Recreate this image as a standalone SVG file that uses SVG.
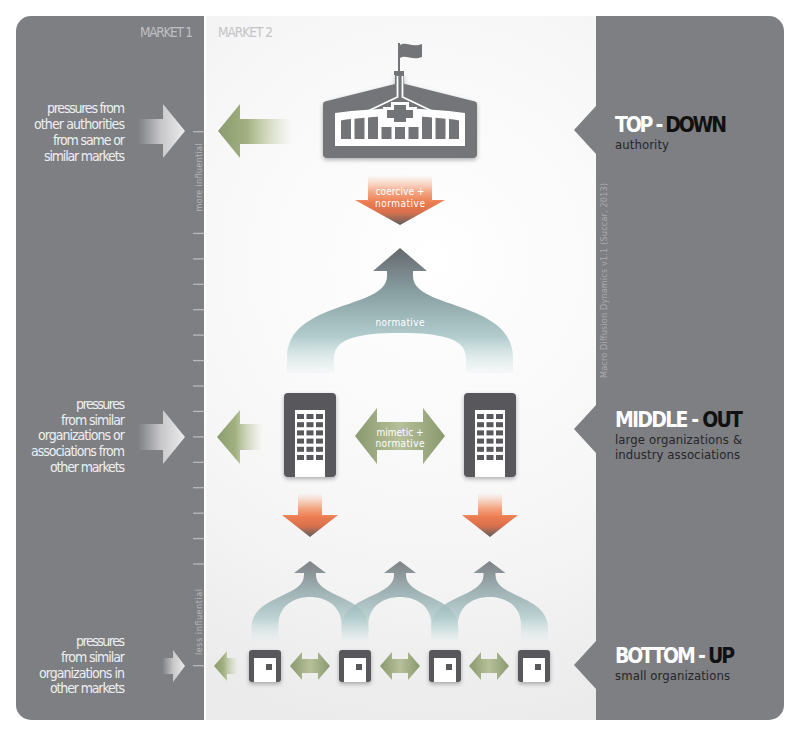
<svg xmlns="http://www.w3.org/2000/svg" width="800" height="736" viewBox="0 0 800 736">
<defs>
<style>
.f{font-family:"Liberation Sans Narrow","DejaVu Sans Condensed","Roboto Condensed","Liberation Sans",sans-serif;font-stretch:condensed;}
.lab{font-size:14px;fill:#eeeff0;text-anchor:end;}
.mk{font-size:13.5px;}
.head{font-size:21px;font-weight:bold;}
.sub{font-size:13px;fill:#262628;}
.inar{font-size:10px;fill:#ffffff;text-anchor:middle;}
.vt{font-size:9px;text-anchor:middle;}
.tick{stroke:#b9babd;stroke-width:1.3;}
.bld{fill:#58585b;}
.win{fill:#58585b;}
</style>
<radialGradient id="bg" cx="430" cy="260" r="470" gradientUnits="userSpaceOnUse">
<stop offset="0" stop-color="#ffffff"/>
<stop offset="0.6" stop-color="#f6f6f6"/>
<stop offset="1" stop-color="#ebebeb"/>
</radialGradient>
<linearGradient id="gray" x1="0" y1="0" x2="1" y2="0">
<stop offset="0" stop-color="#c8c8cb" stop-opacity="0"/>
<stop offset="0.5" stop-color="#cdcdd0" stop-opacity="0.95"/>
<stop offset="1" stop-color="#ececee"/>
</linearGradient>
<linearGradient id="green" x1="0" y1="0" x2="1" y2="0">
<stop offset="0" stop-color="#8b9b6f"/>
<stop offset="0.4" stop-color="#a3b181"/>
<stop offset="1" stop-color="#c8d2ab" stop-opacity="0"/>
</linearGradient>
<linearGradient id="dbl" x1="0" y1="0" x2="1" y2="0">
<stop offset="0" stop-color="#8a996e"/>
<stop offset="0.5" stop-color="#b6c09a"/>
<stop offset="1" stop-color="#8a996e"/>
</linearGradient>
<linearGradient id="orange" x1="0" y1="0" x2="0" y2="1">
<stop offset="0" stop-color="#f6b393" stop-opacity="0"/>
<stop offset="0.35" stop-color="#f29a72" stop-opacity="0.9"/>
<stop offset="0.55" stop-color="#ec7c51"/>
<stop offset="0.75" stop-color="#d8704c"/>
<stop offset="1" stop-color="#5f5f61"/>
</linearGradient>
<linearGradient id="forkBig" x1="0" y1="248" x2="0" y2="376" gradientUnits="userSpaceOnUse">
<stop offset="0" stop-color="#65686d"/>
<stop offset="0.35" stop-color="#89a0a3"/>
<stop offset="0.7" stop-color="#b3cdce"/>
<stop offset="1" stop-color="#dcebeb" stop-opacity="0.1"/>
</linearGradient>
<linearGradient id="forkSm" x1="0" y1="561" x2="0" y2="642" gradientUnits="userSpaceOnUse">
<stop offset="0" stop-color="#65686d"/>
<stop offset="0.35" stop-color="#8aa1a4"/>
<stop offset="0.7" stop-color="#b0cbcc"/>
<stop offset="1" stop-color="#dcebeb" stop-opacity="0.1"/>
</linearGradient>
<filter id="sh" x="-20%" y="-20%" width="140%" height="150%">
<feDropShadow dx="0" dy="2" stdDeviation="2" flood-color="#000" flood-opacity="0.3"/>
</filter>
</defs>

<!-- panels -->
<g id="background">
<rect x="204" y="16" width="392" height="704" fill="url(#bg)"/>
<path d="M204,16 H31 A15,15 0 0 0 16,31 V705 A15,15 0 0 0 31,720 H204 Z" fill="#7e7f83"/>
<rect x="204" y="16" width="2" height="704" fill="#ffffff"/>
<path d="M596,16 H769 A15,15 0 0 1 784,31 V705 A15,15 0 0 1 769,720 H596 V689 L574,665 L596,641 V453 L574,429 L596,405 V154 L574,130 L596,106 Z" fill="#7e7f83"/>
</g>

<g id="scale">
<line class="tick" x1="193" y1="131.7" x2="204" y2="131.7"/>
<line class="tick" x1="193" y1="233.4" x2="204" y2="233.4"/>
<line class="tick" x1="193" y1="258.9" x2="204" y2="258.9"/>
<line class="tick" x1="193" y1="284.3" x2="204" y2="284.3"/>
<line class="tick" x1="193" y1="309.7" x2="204" y2="309.7"/>
<line class="tick" x1="193" y1="335.1" x2="204" y2="335.1"/>
<line class="tick" x1="193" y1="360.6" x2="204" y2="360.6"/>
<line class="tick" x1="193" y1="386" x2="204" y2="386"/>
<line class="tick" x1="193" y1="411.4" x2="204" y2="411.4"/>
<line class="tick" x1="193" y1="436.9" x2="204" y2="436.9"/>
<line class="tick" x1="193" y1="462.3" x2="204" y2="462.3"/>
<line class="tick" x1="193" y1="487.7" x2="204" y2="487.7"/>
<line class="tick" x1="193" y1="513.2" x2="204" y2="513.2"/>
<line class="tick" x1="193" y1="538.6" x2="204" y2="538.6"/>
<line class="tick" x1="193" y1="564" x2="204" y2="564"/>
<line class="tick" x1="193" y1="665.7" x2="204" y2="665.7"/>
<text class="f vt" fill="#b6b7ba" transform="translate(202,177.5) rotate(-90)" textLength="68">more influential</text>
<text class="f vt" fill="#b6b7ba" transform="translate(202,622) rotate(-90)" textLength="66">less influential</text>
</g>

<g id="texts">
<text class="f mk" x="193" y="37" fill="#bebfc2" text-anchor="end" textLength="53">MARKET 1</text>
<text class="f mk" x="218" y="37" fill="#c3c4c7" textLength="55">MARKET 2</text>
<text class="f vt" fill="#a9aaae" transform="translate(607,280.5) rotate(-90)" textLength="195">Macro Diffusion Dynamics v1.1 (Succar, 2013)</text>
</g>

<g id="label-top">
<text class="f lab" x="125" y="113" textLength="78">pressures from</text>
<text class="f lab" x="125" y="129" textLength="91">other authorities</text>
<text class="f lab" x="125" y="145" textLength="72">from same or</text>
<text class="f lab" x="125" y="161" textLength="81">similar markets</text>
</g>
<g id="label-middle">
<text class="f lab" x="125" y="409" textLength="49">pressures</text>
<text class="f lab" x="125" y="424.5" textLength="64">from similar</text>
<text class="f lab" x="125" y="440" textLength="87">organizations or</text>
<text class="f lab" x="125" y="456" textLength="94">associations from</text>
<text class="f lab" x="125" y="471.5" textLength="75">other markets</text>
</g>
<g id="label-bottom">
<text class="f lab" x="125" y="646" textLength="49">pressures</text>
<text class="f lab" x="125" y="662" textLength="64">from similar</text>
<text class="f lab" x="125" y="677.5" textLength="86">organizations in</text>
<text class="f lab" x="125" y="693" textLength="75">other markets</text>
</g>

<g id="level-top">
<text class="f head" x="615" y="132" textLength="112"><tspan fill="#ffffff">TOP - </tspan><tspan fill="#111111">DOWN</tspan></text>
<text class="f sub" x="615" y="148.5" textLength="54">authority</text>
</g>
<g id="level-middle">
<text class="f head" x="615" y="427" textLength="128"><tspan fill="#ffffff">MIDDLE - </tspan><tspan fill="#111111">OUT</tspan></text>
<text class="f sub" x="615" y="443.5" textLength="127">large organizations &amp;</text>
<text class="f sub" x="615" y="458.5" textLength="125">industry associations</text>
</g>
<g id="level-bottom">
<text class="f head" x="615" y="663" textLength="120"><tspan fill="#ffffff">BOTTOM - </tspan><tspan fill="#111111">UP</tspan></text>
<text class="f sub" x="615" y="680" textLength="115">small organizations</text>
</g>

<!-- connectors -->
<g id="connectors">
<path d="M138,119 H163 V104 L185,131 L163,158 V144 H138 Z" fill="url(#gray)"/>
<path d="M218,131 L240,104 V119 H292 V144 H240 V158 Z" fill="url(#green)"/>
<path d="M138,424 H163 V410 L185,437 L163,464 V450 H138 Z" fill="url(#gray)"/>
<path d="M217,437 L240,410 V424 H263 V450 H240 V464 Z" fill="url(#green)"/>
<path d="M162,658 H173 V650 L185,666 L173,682 V674 H162 Z" fill="url(#gray)"/>
<path d="M214,666 L227,651 V658 H238 V674 H227 V681 Z" fill="url(#green)"/>

<path d="M368,175 H432 V200 H445 L400,225 L355,200 H368 Z" fill="url(#orange)"/>
<text class="f inar" x="400" y="195" textLength="49">coercive +</text>
<text class="f inar" x="400" y="206.5" textLength="50">normative</text>

<path d="M400,248 L427,271 H413 V276 C413,310 513,300 513,358 V373 H466 V358 C466,338 440,333 400,333 C360,333 334,338 334,358 V373 H287 V358 C287,300 387,310 387,276 V271 H373 Z" fill="url(#forkBig)"/>
<text class="f inar" x="400" y="326" textLength="49">normative</text>

<path d="M355,436 L377,408 V422 H423 V408 L445,436 L423,464 V450 H377 V464 Z" fill="url(#dbl)"/>
<text class="f inar" x="400" y="435.5" textLength="47">mimetic +</text>
<text class="f inar" x="400" y="447" textLength="49">normative</text>

<path d="M298,493 H322 V515 H338 L310,537 L282,515 H298 Z" fill="url(#orange)"/>
<path d="M478,493 H502 V515 H518 L490,537 L462,515 H478 Z" fill="url(#orange)"/>

<g fill="url(#forkSm)" fill-opacity="0.82">
<path d="M310,561 L326,573 H316 V575 C316,598 368.5,595 368.5,628 V640 H341.5 V625 C341.5,605 325,597 310,597 C295,597 278.5,605 278.5,625 V640 H251.5 V628 C251.5,595 304,598 304,575 V573 H294 Z"/>
<path d="M400,561 L416,573 H406 V575 C406,598 458.5,595 458.5,628 V640 H431.5 V625 C431.5,605 415,597 400,597 C385,597 368.5,605 368.5,625 V640 H341.5 V628 C341.5,595 394,598 394,575 V573 H384 Z"/>
<path d="M489.5,561 L505.5,573 H495.5 V575 C495.5,598 548,595 548,628 V640 H521 V625 C521,605 504.5,597 489.5,597 C474.5,597 458,605 458,625 V640 H431 V628 C431,595 483.5,598 483.5,575 V573 H473.5 Z"/>
</g>

<path d="M290,666 L302,652 V659 H318 V652 L330,666 L318,680 V673 H302 V680 Z" fill="url(#dbl)"/>
<path d="M380,666 L392,652 V659 H408 V652 L420,666 L408,680 V673 H392 V680 Z" fill="url(#dbl)"/>
<path d="M469,666 L481,652 V659 H497 V652 L509,666 L497,680 V673 H481 V680 Z" fill="url(#dbl)"/>
</g>

<!-- authority -->
<g id="authority">
<line x1="399" y1="43" x2="399" y2="73" stroke="#737478" stroke-width="2"/>
<path d="M400,45 C406,41 412,48 422,44 V57 C412,61 406,54 400,58 Z" fill="#737478"/>
<rect x="394" y="71" width="10" height="4" fill="#737478"/>
<g filter="url(#sh)">
<rect x="395" y="74" width="9" height="12" fill="#737478"/>
<path d="M325,101.5 L399,83 Q400,82.8 401,83 L475,101.5 Q477,102 477,104 V154 Q477,158 473,158 H327 Q323,158 323,154 V104 Q323,102 325,101.5 Z" fill="#737478"/>
</g>
<path d="M397.5,76 V97 L368,111 M402.5,76 V97 L432,111" fill="none" stroke="#ffffff" stroke-width="1.8"/>
<path d="M335,113 Q400,104 465,113 V146 H335 Z" fill="#ffffff"/>
<g fill="#737478">
<path d="M341,120.4 Q346,119.6 351,119.1 V139 H341 Z"/>
<path d="M354.5,118.8 Q359.5,118.2 364.5,117.7 V139 H354.5 Z"/>
<path d="M368,117.5 Q373,117 378,116.7 V139 H368 Z"/>
<rect x="381.5" y="127" width="10" height="12"/>
<rect x="395" y="127" width="10" height="12"/>
<rect x="408.5" y="127" width="10" height="12"/>
<path d="M422,116.7 Q427,117 432,117.5 V139 H422 Z"/>
<path d="M435.5,117.7 Q440.5,118.2 445.5,118.8 V139 H435.5 Z"/>
<path d="M449,119.1 Q454,119.6 459,120.4 V139 H449 Z"/>
</g>
<path d="M391,102 H409 V107 H417 V121 H409 V125 H391 V121 H383 V107 H391 Z" fill="#ffffff"/>
<path d="M394,105 H406 V110 H413 V118 H406 V122 H394 V118 H387 V110 H394 Z" fill="#737478"/>
</g>

<!-- large organizations -->
<g id="org-large-left" filter="url(#sh)">
<rect class="bld" x="284" y="393" width="52" height="84" rx="4"/>
<rect x="295" y="410" width="30" height="67" fill="#ffffff"/>
<g class="win">
<rect x="297" y="414" width="7" height="5"/><rect x="306.5" y="414" width="7" height="5"/><rect x="316" y="414" width="7" height="5"/>
<rect x="297" y="422.2" width="7" height="5"/><rect x="306.5" y="422.2" width="7" height="5"/><rect x="316" y="422.2" width="7" height="5"/>
<rect x="297" y="430.4" width="7" height="5"/><rect x="306.5" y="430.4" width="7" height="5"/><rect x="316" y="430.4" width="7" height="5"/>
<rect x="297" y="438.6" width="7" height="5"/><rect x="306.5" y="438.6" width="7" height="5"/><rect x="316" y="438.6" width="7" height="5"/>
<rect x="297" y="446.8" width="7" height="5"/><rect x="306.5" y="446.8" width="7" height="5"/><rect x="316" y="446.8" width="7" height="5"/>
<rect x="297" y="455" width="7" height="5"/><rect x="306.5" y="455" width="7" height="5"/><rect x="316" y="455" width="7" height="5"/>
</g>
</g>
<g id="org-large-right" filter="url(#sh)">
<rect class="bld" x="464" y="393" width="52" height="84" rx="4"/>
<rect x="475" y="410" width="30" height="67" fill="#ffffff"/>
<g class="win">
<rect x="477" y="414" width="7" height="5"/><rect x="486.5" y="414" width="7" height="5"/><rect x="496" y="414" width="7" height="5"/>
<rect x="477" y="422.2" width="7" height="5"/><rect x="486.5" y="422.2" width="7" height="5"/><rect x="496" y="422.2" width="7" height="5"/>
<rect x="477" y="430.4" width="7" height="5"/><rect x="486.5" y="430.4" width="7" height="5"/><rect x="496" y="430.4" width="7" height="5"/>
<rect x="477" y="438.6" width="7" height="5"/><rect x="486.5" y="438.6" width="7" height="5"/><rect x="496" y="438.6" width="7" height="5"/>
<rect x="477" y="446.8" width="7" height="5"/><rect x="486.5" y="446.8" width="7" height="5"/><rect x="496" y="446.8" width="7" height="5"/>
<rect x="477" y="455" width="7" height="5"/><rect x="486.5" y="455" width="7" height="5"/><rect x="496" y="455" width="7" height="5"/>
</g>
</g>

<!-- small organizations -->
<g id="org-small-1" filter="url(#sh)">
<rect class="bld" x="249" y="650" width="32" height="32" rx="3"/>
<rect x="254" y="658" width="22" height="24" fill="#ffffff"/>
<rect class="bld" x="266" y="664" width="6" height="6"/>
</g>
<g id="org-small-2" filter="url(#sh)">
<rect class="bld" x="339" y="650" width="32" height="32" rx="3"/>
<rect x="344" y="658" width="22" height="24" fill="#ffffff"/>
<rect class="bld" x="356" y="664" width="6" height="6"/>
</g>
<g id="org-small-3" filter="url(#sh)">
<rect class="bld" x="429" y="650" width="32" height="32" rx="3"/>
<rect x="434" y="658" width="22" height="24" fill="#ffffff"/>
<rect class="bld" x="446" y="664" width="6" height="6"/>
</g>
<g id="org-small-4" filter="url(#sh)">
<rect class="bld" x="518" y="650" width="32" height="32" rx="3"/>
<rect x="523" y="658" width="22" height="24" fill="#ffffff"/>
<rect class="bld" x="535" y="664" width="6" height="6"/>
</g>
</svg>
